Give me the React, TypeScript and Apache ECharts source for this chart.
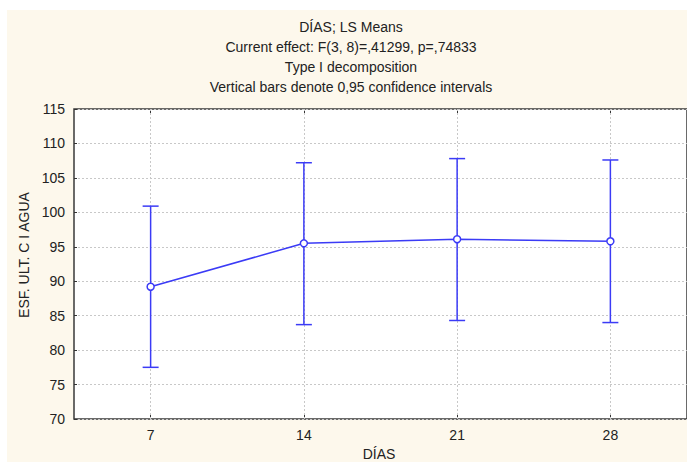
import React, { useEffect, useRef } from "react";
import * as echarts from "echarts";

// Days of measurement and LS means with 0.95 confidence limits
const days = ["7", "14", "21", "28"];
const means = [89.2, 95.5, 96.1, 95.8];
const lowerCI = [77.5, 83.7, 84.3, 84.0];
const upperCI = [100.9, 107.2, 107.8, 107.6];
const yTicks = { min: 70, max: 115, step: 5 };

const titleLines = [
  "DÍAS; LS Means",
  "Current effect: F(3, 8)=,41299, p=,74833",
  "Type I decomposition",
  "Vertical bars denote 0,95 confidence intervals",
];

const FONT = "'Liberation Sans', Arial, sans-serif";
const BLUE = "#3b3bf6";
const INK = "#222222";

export default function App() {
  const ref = useRef<HTMLDivElement>(null);

  useEffect(() => {
    if (!ref.current) return;
    const chart = echarts.init(ref.current, undefined, { renderer: "svg" });

    const errorData = days.map((_, i) => [i, lowerCI[i], upperCI[i]]);

    chart.setOption({
      animation: false,
      backgroundColor: "transparent",
      textStyle: { fontFamily: FONT },
      grid: {
        left: 74,
        top: 109,
        right: -1,
        bottom: 43,
        show: true,
        backgroundColor: "#ffffff",
        borderColor: "#3a3a3a",
        borderWidth: 1.5,
      },
      xAxis: [
        {
          type: "category",
          data: days,
          boundaryGap: true,
          axisLine: { show: false },
          axisTick: { show: true, inside: true, alignWithLabel: true, length: 4, lineStyle: { color: "#333" } },
          axisLabel: { color: INK, fontSize: 14, fontFamily: FONT, margin: 9 },
          splitLine: { show: false },
        },
        {
          type: "category",
          data: days,
          position: "top",
          boundaryGap: true,
          axisLine: { show: false },
          axisTick: { show: true, inside: true, alignWithLabel: true, length: 4, lineStyle: { color: "#333" } },
          axisLabel: { show: false },
          splitLine: { show: false },
        },
      ],
      yAxis: {
        type: "value",
        min: yTicks.min,
        max: yTicks.max,
        interval: yTicks.step,
        axisLine: { show: false },
        axisTick: { show: true, inside: true, length: 3, lineStyle: { color: "#333" } },
        axisLabel: { color: INK, fontSize: 14, fontFamily: FONT, margin: 9 },
        splitLine: { show: true, lineStyle: { color: "#c8c8c8", type: [2, 2], width: 1 } },
      },
      graphic: [
        ...titleLines.map((t, i) => ({
          type: "text",
          x: 351,
          y: 27 + i * 20,
          style: {
            text: t,
            fill: INK,
            font: `14px ${FONT}`,
            textAlign: "center",
            textVerticalAlign: "middle",
          },
        })),
        {
          type: "text",
          x: 24,
          y: 255,
          rotation: Math.PI / 2,
          style: {
            text: "ESF. ULT. C I AGUA",
            fill: INK,
            font: `14px ${FONT}`,
            textAlign: "center",
            textVerticalAlign: "middle",
          },
        },
        {
          type: "text",
          x: 379,
          y: 454,
          style: {
            text: "DÍAS",
            fill: INK,
            font: `14px ${FONT}`,
            textAlign: "center",
            textVerticalAlign: "middle",
          },
        },
      ],
      series: [
        {
          // confidence-interval whiskers
          type: "custom",
          data: errorData,
          z: 2,
          silent: true,
          renderItem: (params: any, api: any) => {
            const x = api.value(0);
            const lo = api.coord([x, api.value(1)]);
            const hi = api.coord([x, api.value(2)]);
            const cap = 8;
            const style = { stroke: BLUE, lineWidth: 1.5 };
            return {
              type: "group",
              children: [
                { type: "line", shape: { x1: lo[0], y1: lo[1], x2: hi[0], y2: hi[1] }, style },
                { type: "line", shape: { x1: hi[0] - cap, y1: hi[1], x2: hi[0] + cap, y2: hi[1] }, style },
                { type: "line", shape: { x1: lo[0] - cap, y1: lo[1], x2: lo[0] + cap, y2: lo[1] }, style },
              ],
            };
          },
          encode: { x: 0, y: [1, 2] },
        },
        {
          type: "line",
          data: means,
          z: 3,
          silent: true,
          symbol: "circle",
          symbolSize: 7,
          lineStyle: { color: BLUE, width: 1.5 },
          itemStyle: { color: "#ffffff", borderColor: BLUE, borderWidth: 1.5 },
          markLine: {
            silent: true,
            symbol: "none",
            label: { show: false },
            z: 1,
            lineStyle: { color: "#c8c8c8", type: [2, 2], width: 1 },
            data: days.map((d) => ({ xAxis: d })),
          },
        },
      ],
    });

    return () => chart.dispose();
  }, []);

  return (
    <div style={{ position: "absolute", left: 0, top: 0, width: 687, height: 462, background: "#ffffff", overflow: "hidden" }}>
      <div style={{ position: "absolute", left: 7, top: 10, width: 680, height: 452, background: "#fdf8ec" }} />
      <div ref={ref} style={{ position: "absolute", left: 0, top: 0, width: 687, height: 462 }} />
    </div>
  );
}
